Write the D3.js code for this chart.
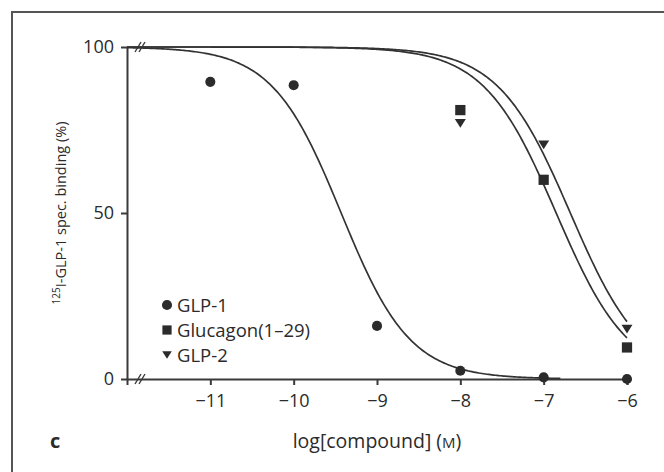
<!DOCTYPE html>
<html>
<head>
<meta charset="utf-8">
<script src="https://cdn.jsdelivr.net/npm/d3@7"></script>
<style>
  body { margin: 0; background: #fff; }
  text { font-family: "Open Sans", sans-serif; fill: #2b2b2b; }
</style>
</head>
<body>
<div id="chart"></div>
<script>

// data
var logDose = [-11, -10, -9, -8, -7, -6];
var glp1 = [89.5, 88.5, 16, 2.5, 0.5, 0];
var glucagonDose = [-8, -7, -6];
var glucagon = [81, 60, 9.5];
var glp2Dose = [-8, -7, -6];
var glp2 = [77, 70.5, 15];

// sigmoid fits (logIC50, hill slope, x range) estimated from the drawn curves
var fitGlp1 = [-9.43, 1.05, -12, -6.8];
var fitGlucagon = [-6.85, 1.0, -12, -6];
var fitGlp2 = [-6.68, 1.0, -12, -6];

var xTicks = [-11, -10, -9, -8, -7, -6];
var yTicks = [0, 50, 100];
var legendNames = ["GLP-1", "Glucagon(1\u201329)", "GLP-2"];

var svgWidth = 664;
var svgHeight = 472;

var margin = {
  top: 47,
  right: 37,
  bottom: 93,
  left: 127
};

var width = svgWidth - margin.left - margin.right;
var height = svgHeight - margin.top - margin.bottom;

var ink = "#2b2b2b";

var svg = d3.select("#chart")
  .append("svg")
  .attr("width", svgWidth)
  .attr("height", svgHeight);

// panel frame (open on the right and bottom)
svg.append("path")
  .attr("d", "M12,472 V12 H664")
  .attr("fill", "none")
  .attr("stroke", "#555")
  .attr("stroke-width", 2);

var chartGroup = svg.append("g")
  .attr("transform", `translate(${margin.left}, ${margin.top})`);

// scales
var xScale = d3.scaleLinear()
  .domain([-12, -6])
  .range([0, width]);

var yScale = d3.scaleLinear()
  .domain([0, 100])
  .range([height, 0]);

// axes
var bottomAxis = d3.axisBottom(xScale)
  .tickValues(xTicks)
  .tickSize(6)
  .tickSizeOuter(6)
  .tickFormat(d => "\u2212" + Math.abs(d));

var leftAxis = d3.axisLeft(yScale)
  .tickValues(yTicks)
  .tickSize(6)
  .tickSizeOuter(0);

var xAxisG = chartGroup.append("g")
  .attr("transform", `translate(0, ${height})`)
  .call(bottomAxis);

var yAxisG = chartGroup.append("g")
  .call(leftAxis);

[xAxisG, yAxisG].forEach(function(g) {
  g.selectAll("path, line")
    .attr("stroke", "#3a3a3a")
    .attr("stroke-width", 2);
  g.selectAll("text")
    .attr("font-family", "Open Sans")
    .attr("font-size", 18)
    .attr("fill", ink);
});
xAxisG.selectAll("text").attr("dy", "1.05em").attr("y", 9);
yAxisG.selectAll("text").attr("x", -13);

// axis break marks
[100, 0].forEach(function(v) {
  [0, 4].forEach(function(off) {
    chartGroup.append("line")
      .attr("x1", 8 + off).attr("y1", yScale(v) + 5)
      .attr("x2", 14 + off).attr("y2", yScale(v) - 5)
      .attr("stroke", "#3a3a3a")
      .attr("stroke-width", 1.4);
  });
});

// fitted curves
var line = d3.line()
  .x(d => xScale(d[0]))
  .y(d => yScale(d[1]));

function fitPoints(fit) {
  var pts = [];
  for (var x = fit[2]; x <= fit[3] + 1e-9; x += 0.02) {
    pts.push([x, 100 / (1 + Math.pow(10, (x - fit[0]) * fit[1]))]);
  }
  return pts;
}

[fitGlp1, fitGlucagon, fitGlp2].forEach(function(fit) {
  chartGroup.append("path")
    .datum(fitPoints(fit))
    .attr("d", line)
    .attr("fill", "none")
    .attr("stroke", "#333")
    .attr("stroke-width", 1.7);
});

// markers
var circle = d3.symbol().type(d3.symbolCircle).size(80);
var square = d3.symbol().type(d3.symbolSquare).size(105);
var triDown = function(s) {
  return `M${-s},${-s * 0.8} L${s},${-s * 0.8} L0,${s * 0.8} Z`;
};

chartGroup.selectAll(".glp1")
  .data(d3.zip(logDose, glp1))
  .enter()
  .append("path")
  .attr("class", "glp1")
  .attr("transform", d => `translate(${xScale(d[0])}, ${yScale(d[1])})`)
  .attr("d", circle())
  .attr("fill", ink);

chartGroup.selectAll(".glucagon")
  .data(d3.zip(glucagonDose, glucagon))
  .enter()
  .append("path")
  .attr("class", "glucagon")
  .attr("transform", d => `translate(${xScale(d[0])}, ${yScale(d[1])})`)
  .attr("d", square())
  .attr("fill", ink);

chartGroup.selectAll(".glp2")
  .data(d3.zip(glp2Dose, glp2))
  .enter()
  .append("path")
  .attr("class", "glp2")
  .attr("transform", d => `translate(${xScale(d[0])}, ${yScale(d[1])})`)
  .attr("d", triDown(5.5))
  .attr("fill", ink);

// legend
var legend = svg.append("g")
  .attr("transform", "translate(167, 305)");

var legendShapes = [circle(), d3.symbol().type(d3.symbolSquare).size(85)(), triDown(4.8)];

legendNames.forEach(function(name, i) {
  var row = legend.append("g")
    .attr("transform", `translate(0, ${i * 25})`);
  row.append("path")
    .attr("d", legendShapes[i])
    .attr("fill", ink);
  row.append("text")
    .attr("x", 10)
    .attr("y", 7)
    .attr("font-size", 18.5)
    .text(name);
});

// axis labels
var yLabel = svg.append("text")
  .attr("transform", `translate(66, ${margin.top + height / 2}) rotate(-90)`)
  .attr("text-anchor", "middle")
  .attr("font-size", 14.5);
yLabel.append("tspan")
  .attr("font-size", 10)
  .attr("dy", -6)
  .text("125");
yLabel.append("tspan")
  .attr("dy", 6)
  .text("I-GLP-1 spec. binding (%)");

var xLabel = svg.append("text")
  .attr("x", 377)
  .attr("y", 448)
  .attr("text-anchor", "middle")
  .attr("font-size", 19.5);
xLabel.append("tspan").text("log[compound] (");
xLabel.append("tspan").attr("font-size", 15).text("M");
xLabel.append("tspan").text(")");

// panel letter
svg.append("text")
  .attr("x", 50)
  .attr("y", 448)
  .attr("font-size", 20)
  .attr("font-weight", "bold")
  .text("c");

</script>
</body>
</html>
